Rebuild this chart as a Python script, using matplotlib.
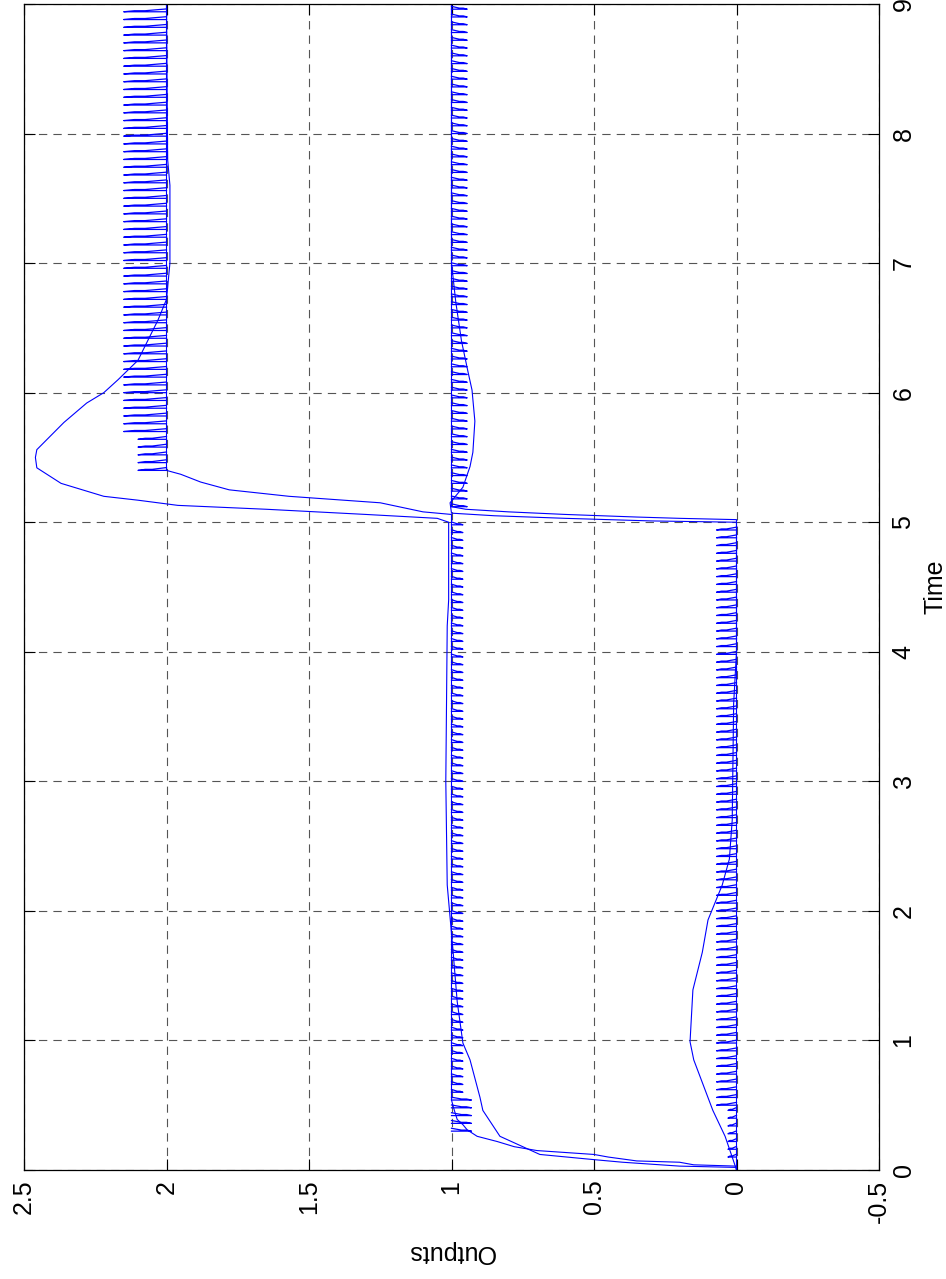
import numpy as np
import matplotlib
matplotlib.use("Agg")
import matplotlib.pyplot as plt

plt.rcParams['font.family'] = ['Liberation Sans', 'DejaVu Sans']

# continuous controller, output 1 (time, value)
t_y1_smooth = [0, 0.02, 0.03, 0.06, 0.08, 0.12, 0.2, 0.26, 0.31, 0.46, 0.56, 0.85, 0.98,
               1.3, 1.7, 2.2, 3.0, 4.2, 4.4, 5.0, 5.03, 5.06, 5.1, 5.13, 5.17, 5.2, 5.3,
               5.42, 5.5, 5.56, 5.77, 5.92, 6.0, 6.1, 6.25, 6.56, 6.72, 7.0, 7.6, 7.8, 9.0]
y1_smooth = [0, 0, 0.2, 0.4, 0.5, 0.69, 0.77, 0.83, 0.845, 0.89, 0.9, 0.935, 0.96,
             0.98, 0.995, 1.015, 1.02, 1.015, 1.01, 1.01, 1.05, 1.3, 1.65, 1.96, 2.1, 2.22, 2.37,
             2.455, 2.46, 2.455, 2.36, 2.28, 2.22, 2.17, 2.10, 2.03, 2.0, 1.988, 1.988, 1.996, 2.0]

# continuous controller, output 2
t_y2_smooth = [0, 0.08, 0.26, 0.46, 0.85, 0.99, 1.39, 1.68, 1.93, 2.2, 2.4, 2.7, 3.6, 4.0,
               5.0, 5.01, 5.03, 5.05, 5.07, 5.15, 5.27, 5.43, 5.54, 5.78, 6.02, 6.16, 6.4,
               6.7, 7.0, 9.0]
y2_smooth = [0, 0.012, 0.04, 0.083, 0.15, 0.163, 0.153, 0.12, 0.1, 0.05, 0.025, 0.015, 0.01, 0,
             0, 0.3, 0.6, 0.85, 1.0, 1.005, 0.96, 0.935, 0.925, 0.918, 0.928, 0.942, 0.965,
             0.985, 1.0, 1.0]

# switching controller, output 1
t_y1_switch = [0, 0.03, 0.04, 0.06, 0.07, 0.1, 0.12, 0.15, 0.18, 0.22, 0.26, 0.31, 0.35,
               0.39, 0.46, 0.54, 5.06, 5.08, 5.15, 5.2, 5.25, 5.31, 5.37, 5.4, 9.0]
y1_switch = [0, 0, 0.15, 0.2, 0.35, 0.45, 0.5, 0.7, 0.78, 0.84, 0.91, 0.945, 0.96,
             0.98, 0.99, 1.0, 1.0, 1.1, 1.25, 1.57, 1.78, 1.88, 1.95, 2.0, 2.0]

# switching controller, output 2
t_y2_switch = [0, 5.02, 5.03, 5.04, 5.06, 5.08, 5.1, 5.12, 9.0]
y2_switch = [0, 0, 0.2, 0.35, 0.6, 0.8, 0.95, 1.0, 1.0]

# chattering bursts: (start, end, level, tooth height)
tooth_period = 0.06
y1_chatter = [(0.30, 0.60, 1.0, -0.07), (0.60, 5.0, 1.0, -0.04), (5.40, 5.70, 2.0, 0.10),
              (5.70, 9.0, 2.0, 0.15)]
y2_chatter = [(0.10, 0.50, 0.0, 0.03), (0.50, 5.0, 0.0, 0.07), (5.12, 9.0, 1.0, -0.055)]

t_ticks = [0, 1, 2, 3, 4, 5, 6, 7, 8, 9]
out_ticks = [2.5, 2, 1.5, 1, 0.5, 0, -0.5]
out_labels = ['2.5', '2', '1.5', '1', '0.5', '0', '-0.5']


def teeth(bursts):
    tt, yy = [], []
    for t0, t1, lev, h in bursts:
        for tk in np.arange(t0, t1, tooth_period):
            tt += [tk, tk, tk + 0.008, tk + 0.008, tk + 0.022, np.nan]
            yy += [lev, lev + h, lev + 0.75 * h, lev + 0.5 * h, lev, np.nan]
    return np.array(yy), np.array(tt)


fig = plt.figure(figsize=(9.46, 12.79), dpi=100)
ax = fig.add_axes([24 / 946, 1 - 1170 / 1279, 855 / 946, 1166 / 1279])

blue = (0, 0, 1)
lw = 0.8
# page is turned: value runs along x (reversed), time runs up
ax.plot(y1_smooth, t_y1_smooth, color=blue, lw=lw)
ax.plot(y2_smooth, t_y2_smooth, color=blue, lw=lw)
ax.plot(y1_switch, t_y1_switch, color=blue, lw=lw)
ax.plot(y2_switch, t_y2_switch, color=blue, lw=lw)
for b in (y1_chatter, y2_chatter):
    yy, tt = teeth(b)
    ax.plot(yy, tt, color=blue, lw=0.9)

ax.set_xlim(2.5, -0.5)
ax.set_ylim(0, 9)
ax.set_xticks(out_ticks)
ax.set_xticklabels(out_labels, rotation=90, va='top', ha='center')
ax.set_yticks(t_ticks)
ax.yaxis.tick_right()
ax.set_yticklabels([str(t) for t in t_ticks], rotation=90, va='center', ha='left')
ax.tick_params(axis='both', direction='in', length=8, width=0.8, labelsize=18,
               top=True, bottom=True, left=True, right=True, colors='black')
ax.tick_params(axis='x', pad=7)
ax.tick_params(axis='y', pad=9)
ax.grid(True, color='#555555', lw=0.8, linestyle=(0, (7.5, 5.5)))
for s in ax.spines.values():
    s.set_linewidth(0.9)

ax.set_xlabel('Outputs', fontsize=18, rotation=180, labelpad=12)
ax.yaxis.set_label_position('right')
ax.set_ylabel('Time', fontsize=18, rotation=90, labelpad=6)

fig.savefig('out.png', dpi=100)
